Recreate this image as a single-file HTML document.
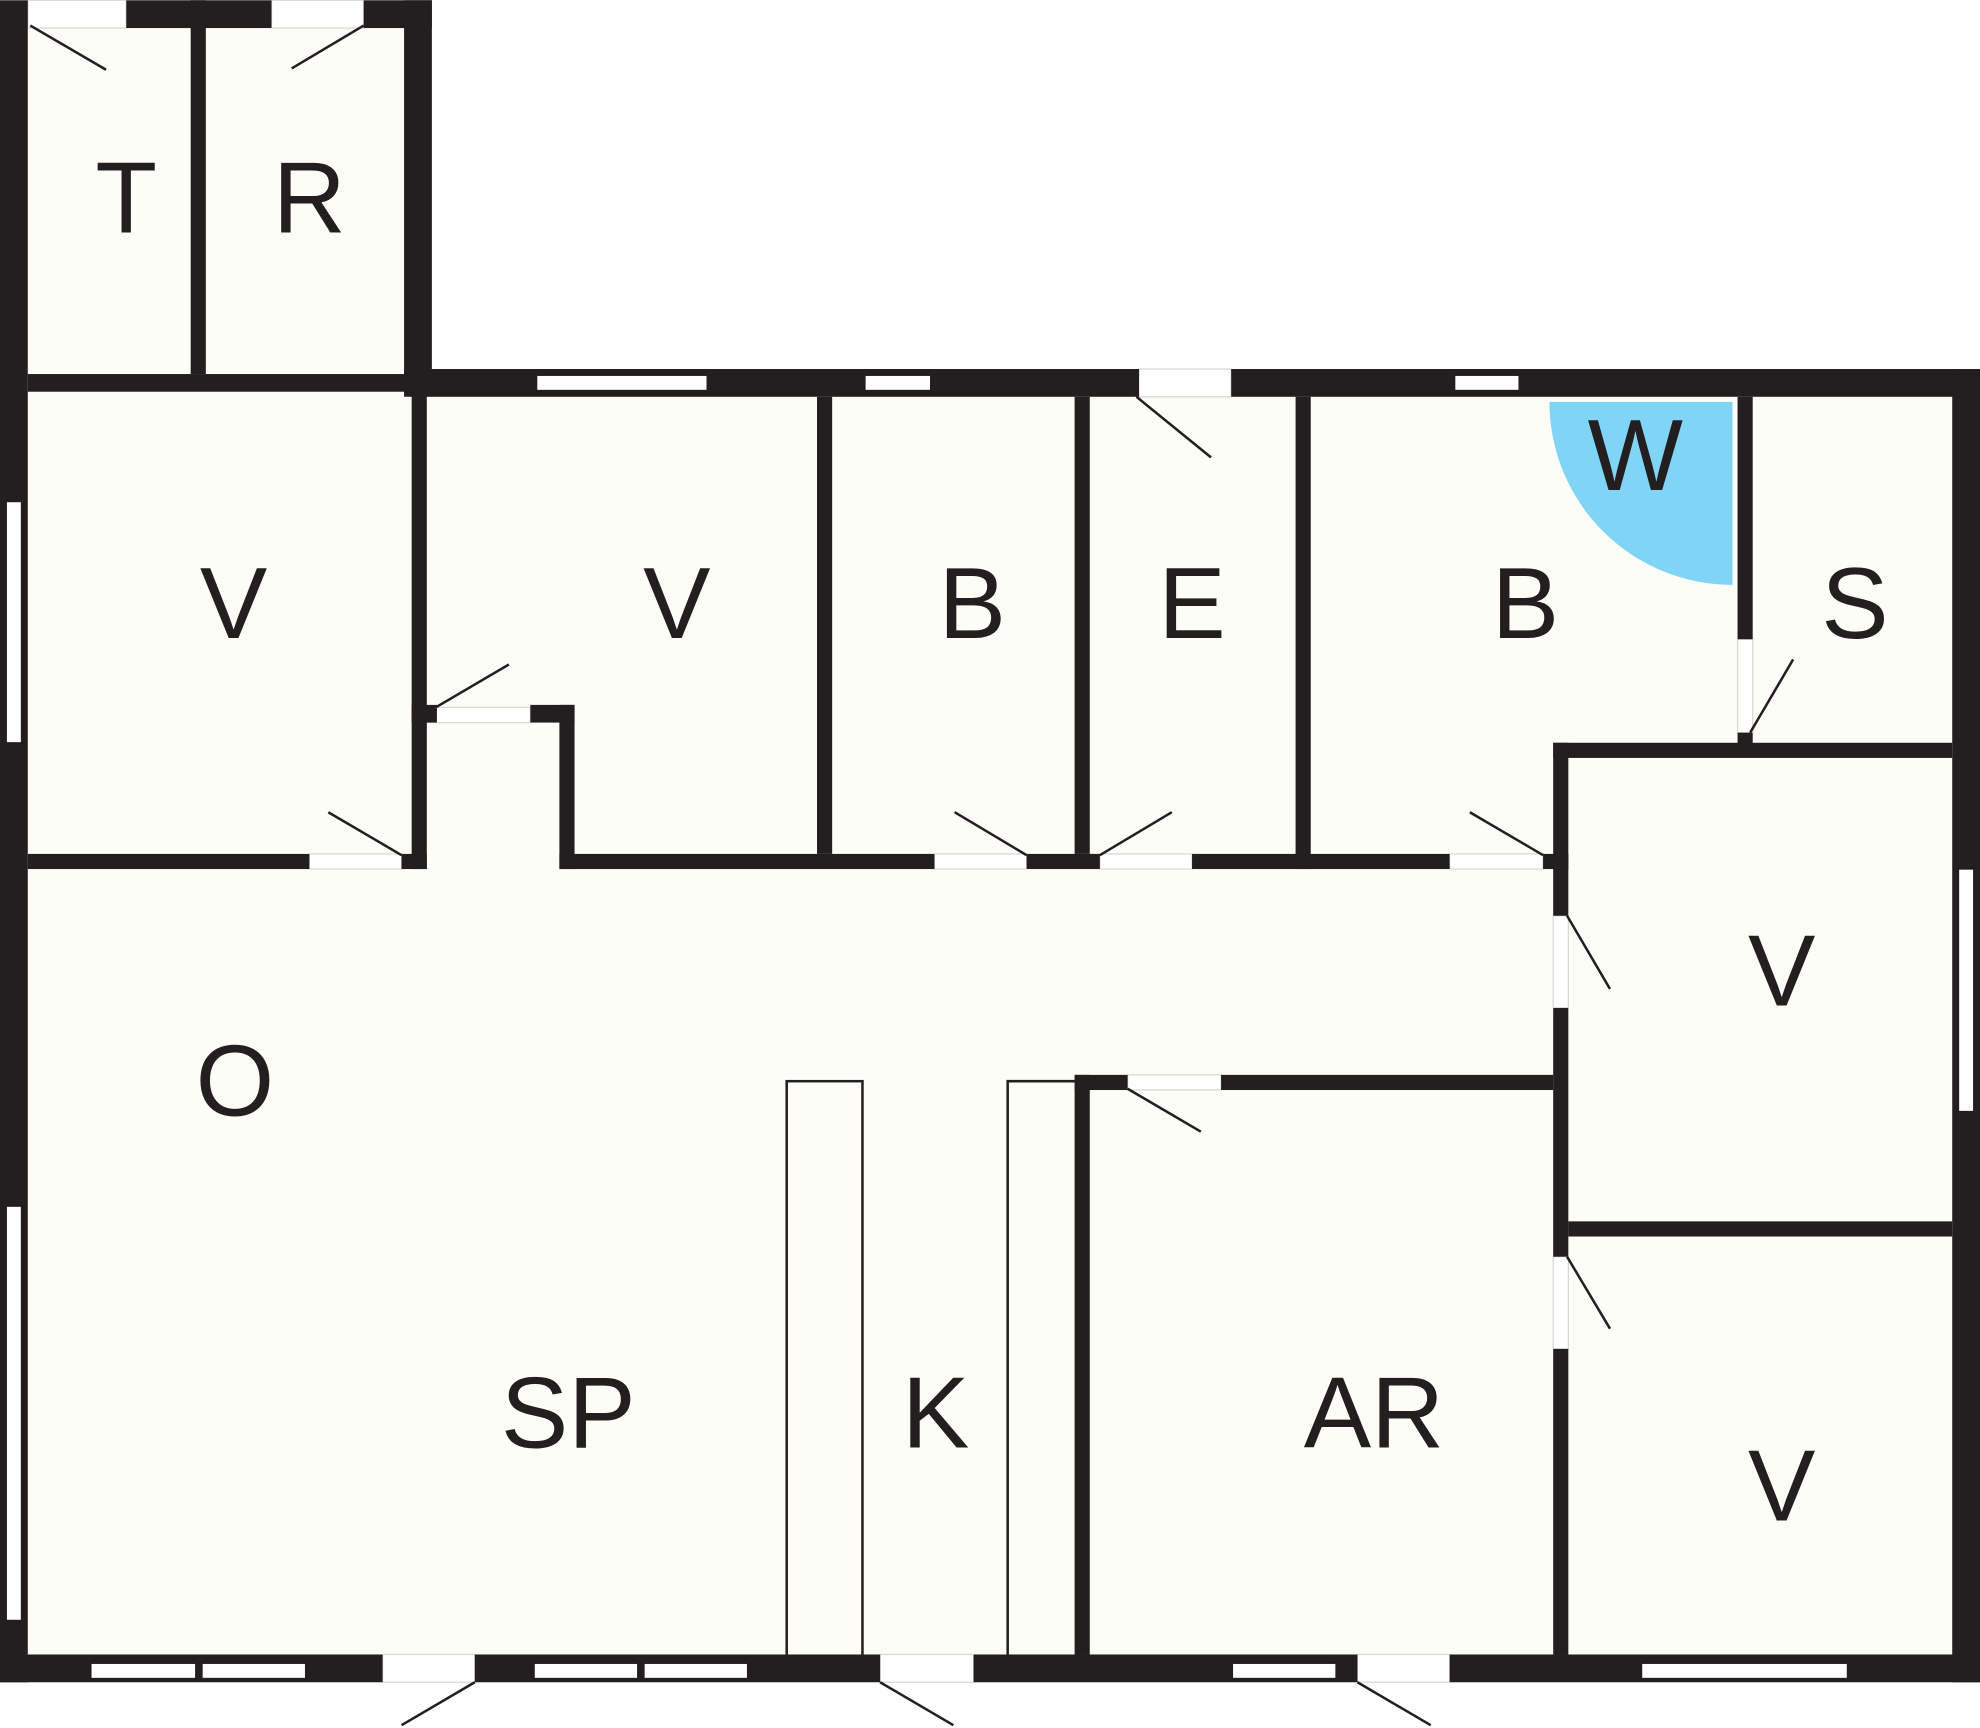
<!DOCTYPE html>
<html><head><style>
html,body{margin:0;padding:0;background:#fff;}
svg{display:block;}
text{font-family:"Liberation Sans",sans-serif;font-size:80px;fill:#231f20;text-anchor:middle;}
</style></head><body>
<svg width="1980" height="1728" viewBox="0 0 1568 1368" xmlns="http://www.w3.org/2000/svg">
<rect x="0" y="0" width="342" height="310" fill="#fdfdf8"/>
<rect x="0" y="292" width="1568" height="1040" fill="#fdfdf8"/>
<path d="M1372 318 L1227 318 A145 145 0 0 0 1372 463 Z" fill="#80d5f6"/>
<!-- door opening slabs -->
<g fill="#fff" stroke="#d8d8d4" stroke-width="1">
<rect x="22" y="0" width="78" height="22"/>
<rect x="215" y="0" width="73" height="22"/>
<rect x="902" y="292" width="73" height="22"/>
<rect x="338" y="560" width="82" height="12"/>
<rect x="245" y="676" width="73" height="12"/>
<rect x="740" y="676" width="73" height="12"/>
<rect x="871" y="676" width="73" height="12"/>
<rect x="1148" y="676" width="74" height="12"/>
<rect x="1376" y="506" width="12" height="74"/>
<rect x="1230" y="725" width="12" height="73"/>
<rect x="1230" y="995" width="12" height="73"/>
<rect x="893" y="851" width="74" height="12"/>
<rect x="303" y="1310" width="73" height="22"/>
<rect x="697" y="1310" width="74" height="22"/>
<rect x="1075" y="1310" width="73" height="22"/>
</g>
<g fill="#231f20">
<rect x="0" y="0" width="22" height="1332"/>
<rect x="100" y="0" width="115" height="22"/>
<rect x="288" y="0" width="54" height="22"/>
<rect x="320" y="0" width="22" height="300"/>
<rect x="151" y="0" width="12" height="296"/>
<rect x="22" y="296" width="304" height="14"/>
<rect x="320" y="292" width="582" height="22"/>
<rect x="975" y="292" width="593" height="22"/>
<rect x="1546" y="292" width="22" height="1040"/>
<rect x="0" y="1310" width="303" height="22"/>
<rect x="376" y="1310" width="321" height="22"/>
<rect x="771" y="1310" width="304" height="22"/>
<rect x="1148" y="1310" width="420" height="22"/>
<rect x="326" y="310" width="12" height="378"/>
<rect x="326" y="558" width="20" height="14"/>
<rect x="420" y="558" width="35" height="14"/>
<rect x="443" y="558" width="12" height="130"/>
<rect x="22" y="676" width="223" height="12"/>
<rect x="318" y="676" width="20" height="12"/>
<rect x="443" y="676" width="297" height="12"/>
<rect x="813" y="676" width="58" height="12"/>
<rect x="944" y="676" width="204" height="12"/>
<rect x="1222" y="676" width="20" height="12"/>
<rect x="647" y="314" width="12" height="362"/>
<rect x="851" y="314" width="12" height="362"/>
<rect x="1026" y="314" width="12" height="374"/>
<rect x="1376" y="314" width="12" height="192"/>
<rect x="1376" y="580" width="12" height="12"/>
<rect x="1230" y="588" width="316" height="12"/>
<rect x="1230" y="588" width="12" height="137"/>
<rect x="1230" y="798" width="12" height="197"/>
<rect x="1230" y="1068" width="12" height="242"/>
<rect x="1242" y="967" width="304" height="12"/>
<rect x="851" y="851" width="42" height="12"/>
<rect x="967" y="851" width="263" height="12"/>
<rect x="851" y="851" width="12" height="459"/>
</g>
<g fill="#fff" stroke="#231f20" stroke-width="1">
<rect x="425" y="297" width="135" height="12"/>
<rect x="685" y="297" width="52" height="12"/>
<rect x="1152" y="297" width="51" height="12"/>
<rect x="5" y="397" width="12" height="191"/>
<rect x="5" y="955" width="12" height="328"/>
<rect x="1551" y="688" width="12" height="192"/>
<rect x="72" y="1317" width="83" height="12"/>
<rect x="160" y="1317" width="82" height="12"/>
<rect x="423" y="1317" width="82" height="12"/>
<rect x="510" y="1317" width="82" height="12"/>
<rect x="976" y="1317" width="82" height="12"/>
<rect x="1300" y="1317" width="163" height="12"/>
</g>
<g fill="none" stroke="#231f20" stroke-width="2">
<rect x="623" y="856" width="60" height="455"/>
<polyline points="798,1311 798,856 851,856"/>
</g>
<g stroke="#231f20" stroke-width="2">
<line x1="24" y1="20" x2="84" y2="55"/>
<line x1="288" y1="20" x2="231" y2="54"/>
<line x1="345" y1="560" x2="403" y2="526"/>
<line x1="318" y1="677" x2="260" y2="643"/>
<line x1="813" y1="677" x2="756" y2="643"/>
<line x1="871" y1="677" x2="928" y2="643"/>
<line x1="1222" y1="677" x2="1164" y2="643"/>
<line x1="900" y1="314" x2="959" y2="362"/>
<line x1="1386" y1="580" x2="1420" y2="522"/>
<line x1="1241" y1="725" x2="1275" y2="783"/>
<line x1="1241" y1="995" x2="1275" y2="1052"/>
<line x1="893" y1="862" x2="951" y2="896"/>
<line x1="376" y1="1332" x2="318" y2="1366"/>
<line x1="697" y1="1332" x2="755" y2="1366"/>
<line x1="1075" y1="1332" x2="1133" y2="1366"/>
</g>
<text x="100" y="184">T</text>
<text x="245" y="184">R</text>
<text x="185" y="505">V</text>
<text x="536" y="505">V</text>
<text x="770" y="505">B</text>
<text x="944" y="505">E</text>
<text x="1208" y="505">B</text>
<text x="1295" y="388">W</text>
<text x="1469" y="505">S</text>
<text x="1411" y="796">V</text>
<text x="1411" y="1204">V</text>
<text x="186" y="883">O</text>
<text x="450" y="1146">SP</text>
<text x="741" y="1146">K</text>
<text x="1088" y="1146">AR</text>
</svg>
</body></html>
